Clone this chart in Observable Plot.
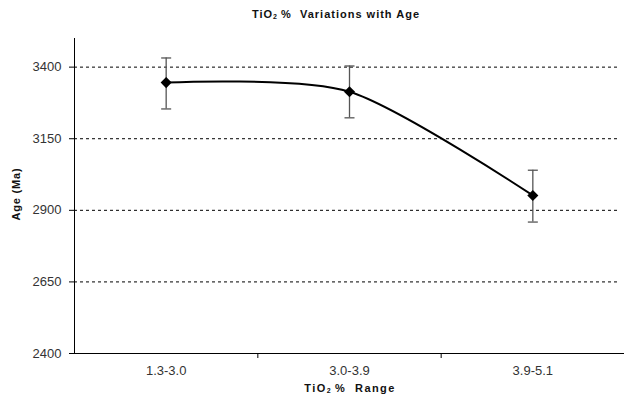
<!DOCTYPE html>
<html><head><meta charset="utf-8">
<script src="https://cdn.jsdelivr.net/npm/d3@7"></script>
<script src="https://cdn.jsdelivr.net/npm/@observablehq/plot@0.6"></script>
<style>
body{margin:0;background:#fff;font-family:"Liberation Sans",Arial,sans-serif;}
#wrap{position:relative;width:624px;height:401px;overflow:hidden;background:#fff;}
#title{height:26px;position:relative;}
#title span{position:absolute;left:186px;width:300px;top:8px;text-align:center;font-weight:bold;font-size:11px;letter-spacing:1px;color:#111;}
sub{font-size:7px;vertical-align:-1px;letter-spacing:0;}
#ylab{position:absolute;left:16px;top:194px;transform:translate(-50%,-50%) rotate(-90deg);font-weight:bold;font-size:11px;letter-spacing:0.8px;white-space:nowrap;color:#111;}
#xlab{position:absolute;left:350px;top:388px;transform:translate(-50%,-50%);font-weight:bold;font-size:11px;letter-spacing:1.4px;white-space:nowrap;color:#111;}
</style>
</head><body>
<div id="wrap">
<div id="title"><span>TiO<sub>2</sub> %&nbsp; Variations with Age</span></div>
<div id="chart"></div>
<div id="ylab">Age (Ma)</div>
<div id="xlab">TiO<sub>2</sub> %&nbsp; Range</div>
</div>
<script>
const categories = ["1.3-3.0", "3.0-3.9", "3.9-5.1"];
const ageMean = [3346, 3314, 2952];
const ageHigh = [3432, 3404, 3040];
const ageLow = [3254, 3223, 2859];
const yTicks = [2400, 2650, 2900, 3150, 3400];
const gridValues = [2650, 2900, 3150, 3400];

const data = categories.map((c, i) => ({pos: i + 0.5, cat: c, age: ageMean[i], hi: ageHigh[i], lo: ageLow[i]}));

const capSymbol = {
  draw(ctx, size) {
    const r = Math.sqrt(size / Math.PI);
    ctx.moveTo(-r, 0);
    ctx.lineTo(r, 0);
  }
};

const chart = Plot.plot({
  width: 624,
  height: 375,
  marginTop: 12,
  marginBottom: 48,
  marginLeft: 74,
  marginRight: 0,
  style: {fontFamily: "Liberation Sans, Arial, sans-serif", fontSize: "13px", color: "#000", background: "white"},
  x: {domain: [0, categories.length], ticks: [1, 2], tickFormat: () => "", tickSize: 5, label: null},
  y: {domain: [2400, 3500], ticks: yTicks, tickFormat: d => String(d), tickSize: 5, tickPadding: 8, label: null},
  marks: [
    Plot.ruleY(gridValues, {stroke: "#000", strokeDasharray: "3,3", insetRight: 4}),
    Plot.ruleX([0], {stroke: "#000"}),
    Plot.ruleY([2400], {stroke: "#000"}),
    Plot.ruleX(data, {x: "pos", y1: "lo", y2: "hi", stroke: "#555", strokeWidth: 1.3}),
    Plot.dot(data, {x: "pos", y: "hi", symbol: capSymbol, r: 5, stroke: "#555", strokeWidth: 1.3, fill: "none"}),
    Plot.dot(data, {x: "pos", y: "lo", symbol: capSymbol, r: 5, stroke: "#555", strokeWidth: 1.3, fill: "none"}),
    Plot.line(data, {x: "pos", y: "age", curve: "cardinal", tension: 0.2, stroke: "#000", strokeWidth: 2}),
    Plot.dot(data, {x: "pos", y: "age", symbol: "diamond2", r: 5, fill: "#000", stroke: "none"}),
    Plot.text(data, {x: "pos", text: "cat", frameAnchor: "bottom", dy: 21, fontSize: 13, fill: "#333"})
  ]
});
d3.select(chart).selectAll("g[aria-label='y-axis'] text, g[aria-label='y-axis tick label'] text").attr("fill", "#333");
document.getElementById("chart").appendChild(chart);
</script>
</body></html>
